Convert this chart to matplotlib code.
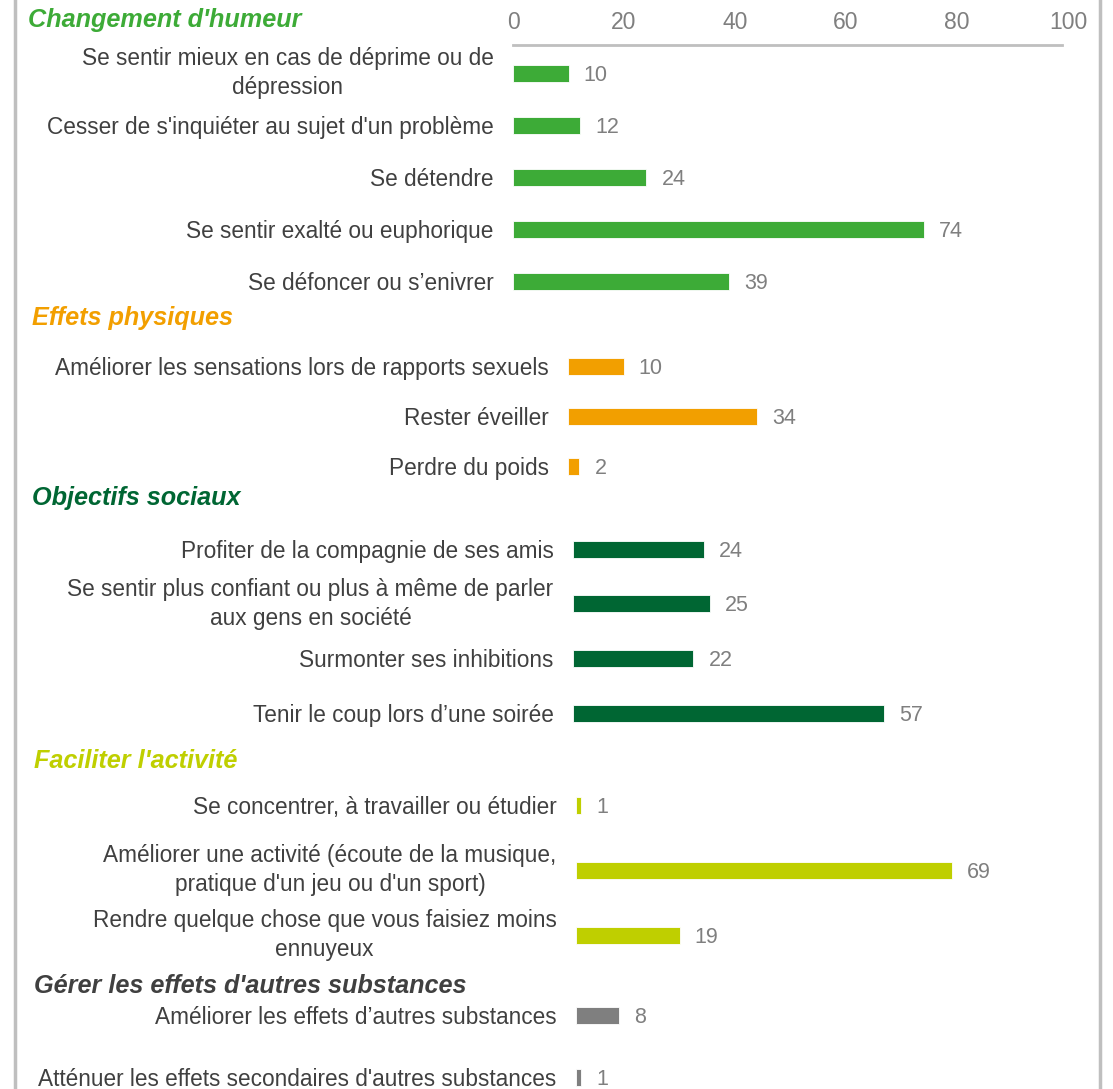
import matplotlib
matplotlib.use("Agg")
import matplotlib.pyplot as plt

plt.rcParams["font.family"] = ["Liberation Sans", "DejaVu Sans"]

# ---- data -------------------------------------------------------------
group_titles = [
    "Changement d'humeur",
    "Effets physiques",
    "Objectifs sociaux",
    "Faciliter l'activité",
    "Gérer les effets d'autres substances",
]

humeur_labels = [
    "Se sentir mieux en cas de déprime ou de\ndépression",
    "Cesser de s'inquiéter au sujet d'un problème",
    "Se détendre",
    "Se sentir exalté ou euphorique",
    "Se défoncer ou s’enivrer",
]
humeur_values = [10, 12, 24, 74, 39]

physique_labels = [
    "Améliorer les sensations lors de rapports sexuels",
    "Rester éveiller",
    "Perdre du poids",
]
physique_values = [10, 34, 2]

social_labels = [
    "Profiter de la compagnie de ses amis",
    "Se sentir plus confiant ou plus à même de parler\naux gens en société",
    "Surmonter ses inhibitions",
    "Tenir le coup lors d’une soirée",
]
social_values = [24, 25, 22, 57]

activite_labels = [
    "Se concentrer, à travailler ou étudier",
    "Améliorer une activité (écoute de la musique,\npratique d'un jeu ou d'un sport)",
    "Rendre quelque chose que vous faisiez moins\nennuyeux",
]
activite_values = [1, 69, 19]

substances_labels = [
    "Améliorer les effets d’autres substances",
    "Atténuer les effets secondaires d'autres substances",
]
substances_values = [8, 1]

x_ticks = [0, 20, 40, 60, 80, 100]

# ---- layout -----------------------------------------------------------
W, H = 1113, 1089
fig = plt.figure(figsize=(W / 100, H / 100), dpi=100)

LABEL_COLOR = "#404040"
VALUE_COLOR = "#7f7f7f"
GRID_COLOR = "#bfbfbf"

LABEL_SIZE = 16.3
VALUE_SIZE = 15.5
TITLE_SIZE = 18.2

groups = [
    # labels, values, colour, title colour, x0 px, px/unit, first centre, pitch, title (x, y)
    (humeur_labels, humeur_values, "#3dab37", "#3dab37", 513, 5.55, 73, 52, (28, 20)),
    (physique_labels, physique_values, "#f29f00", "#f29f00", 568, 5.55, 366, 50, (32, 318)),
    (social_labels, social_values, "#006633", "#006633", 573, 5.46, 549, 54.7, (32, 498)),
    (activite_labels, activite_values, "#bfcf00", "#bfcf00", 576, 5.45, 805, 65, (34, 761)),
    (substances_labels, substances_values, "#7f7f7f", "#404040", 576, 5.40, 1015, 62, (34, 986)),
]

BAR_PX = 17

for i, (labels, values, color, tcolor, x0, ppu, c0, pitch, tpos) in enumerate(groups):
    n = len(labels)
    top = 45 if i == 0 else c0 - pitch / 2
    bottom = c0 + pitch * (n - 0.5)
    ax_w = 100 * ppu
    ax = fig.add_axes([x0 / W, 1 - bottom / H, ax_w / W, (bottom - top) / H])
    ax.set_xlim(0, 100)
    ax.set_ylim(n - 0.5, -(c0 - top) / pitch)
    ypos = list(range(n))
    ax.barh(ypos, values, height=BAR_PX / pitch, color=color,
            edgecolor="white", linewidth=0.6)
    for y, v in zip(ypos, values):
        ax.annotate(str(v), (v, y), xytext=(11, -1.5), textcoords="offset points",
                    va="center", ha="left", fontsize=VALUE_SIZE, color=VALUE_COLOR)
    ax.set_yticks(ypos)
    ticklabels = ax.set_yticklabels(labels, fontsize=LABEL_SIZE, color=LABEL_COLOR,
                                    multialignment="center", linespacing=1.32)
    for t in ticklabels:
        if "\n" in t.get_text():
            t.set_verticalalignment("center")
    ax.tick_params(axis="y", length=0, pad=14)
    for s in ax.spines.values():
        s.set_visible(False)
    if i == 0:
        ax.xaxis.tick_top()
        ax.set_xticks(x_ticks)
        ax.set_xticklabels([str(t) for t in x_ticks])
        ax.tick_params(axis="x", length=0, pad=8, labelsize=16.5,
                       labelcolor=VALUE_COLOR)
        ax.spines["top"].set_visible(True)
        ax.spines["top"].set_color(GRID_COLOR)
        ax.spines["top"].set_linewidth(2)
        ax.spines["top"].set_bounds(0, 99)
    else:
        ax.set_xticks([])
    fig.text(tpos[0] / W, 1 - tpos[1] / H, group_titles[i], color=tcolor,
             fontsize=TITLE_SIZE, fontweight="bold", fontstyle="italic",
             ha="left", va="center")

# frame lines on both sides
fig.add_artist(plt.Line2D([14.5 / W] * 2, [0, 1], color=GRID_COLOR, lw=2.5,
                          transform=fig.transFigure))
fig.add_artist(plt.Line2D([1099.5 / W] * 2, [0, 1], color=GRID_COLOR, lw=2.5,
                          transform=fig.transFigure))

fig.savefig("out.png", dpi=100, facecolor="white")
